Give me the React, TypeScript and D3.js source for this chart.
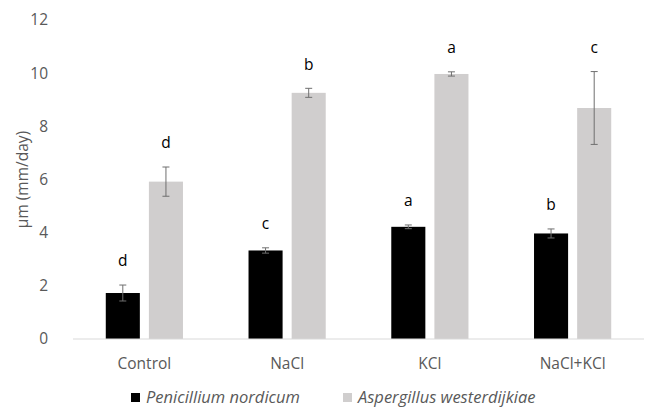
import React from 'react';
import * as d3 from 'd3';

// treatments on the x axis
const categories = ['Control', 'NaCl', 'KCl', 'NaCl+KCl'];
const seriesNames = ['Penicillium nordicum', 'Aspergillus westerdijkiae'];

// mean growth rate and error per treatment
const penicillium = [1.73, 3.33, 4.22, 3.97];
const penicilliumErr = [0.3, 0.1, 0.07, 0.17];
const aspergillus = [5.92, 9.26, 9.97, 8.69];
const aspergillusErr = [0.55, 0.17, 0.08, 1.37];

// significance letters
const penicilliumLetters = ['d', 'c', 'a', 'b'];
const aspergillusLetters = ['d', 'b', 'a', 'c'];

const yTicks = [0, 2, 4, 6, 8, 10, 12];

const colors = ['#000000', '#d0cece'];

const W = 659;
const H = 408;
const margin = { top: 20, right: 15, bottom: 69, left: 73 };

const App = () => {
  const x = d3.scaleBand().domain(categories).range([margin.left, W - margin.right]);
  const sub = d3.scaleBand().domain(seriesNames).range([0, x.bandwidth()]).paddingInner(0.21).paddingOuter(0.76);
  const y = d3.scaleLinear().domain([0, 12]).range([H - margin.bottom, margin.top]);

  const series = [
    { name: seriesNames[0], values: penicillium, err: penicilliumErr, letters: penicilliumLetters },
    { name: seriesNames[1], values: aspergillus, err: aspergillusErr, letters: aspergillusLetters },
  ];

  const font = 'Open Sans, Liberation Sans, sans-serif';

  return (
    <svg width={W} height={H} style={{ position: 'absolute', left: 0, top: 0, fontFamily: font }}>
      <rect width={W} height={H} fill="#fff" />
      {yTicks.map(t => (
        <text key={t} x={margin.left - 25} y={y(t)} dy="0.35em" textAnchor="end" fontSize={15.5} fill="#595959">
          {t}
        </text>
      ))}
      <text transform={`translate(23,${(y(0) + y(12)) / 2}) rotate(-90)`} dy="0.35em" textAnchor="middle" fontSize={15.5} fill="#595959">
        µm (mm/day)
      </text>
      {series.map((s, si) =>
        categories.map((c, ci) => {
          const bx = (x(c) as number) + (sub(s.name) as number);
          const bw = sub.bandwidth();
          const cx = bx + bw / 2;
          const v = s.values[ci];
          const e = s.err[ci];
          return (
            <g key={`${si}-${ci}`}>
              <rect x={bx} y={y(v)} width={bw} height={y(0) - y(v)} fill={colors[si]} />
              <line x1={cx} x2={cx} y1={y(v + e)} y2={y(v - e)} stroke="#6f6f6f" strokeWidth={1} />
              <line x1={cx - 3.5} x2={cx + 3.5} y1={y(v + e)} y2={y(v + e)} stroke="#6f6f6f" strokeWidth={1} />
              <line x1={cx - 3.5} x2={cx + 3.5} y1={y(v - e)} y2={y(v - e)} stroke="#6f6f6f" strokeWidth={1} />
              <text x={cx} y={y(v + e) - 24} dy="0.35em" textAnchor="middle" fontSize={15.5} fill="#000">
                {s.letters[ci]}
              </text>
            </g>
          );
        })
      )}
      <line x1={margin.left} x2={W - margin.right} y1={y(0)} y2={y(0)} stroke="#d9d9d9" strokeWidth={1} />
      {categories.map(c => (
        <text key={c} x={(x(c) as number) + x.bandwidth() / 2} y={y(0) + 25} dy="0.35em" textAnchor="middle" fontSize={15.5} fill="#595959">
          {c}
        </text>
      ))}
      {seriesNames.map((n, i) => {
        const lx = i === 0 ? 131 : 343;
        return (
          <g key={n}>
            <rect x={lx} y={393} width={9} height={9} fill={colors[i]} />
            <text x={lx + 15} y={397} dy="0.35em" fontSize={16.5} fontStyle="italic" fill="#595959">
              {n}
            </text>
          </g>
        );
      })}
    </svg>
  );
};

export default App;
